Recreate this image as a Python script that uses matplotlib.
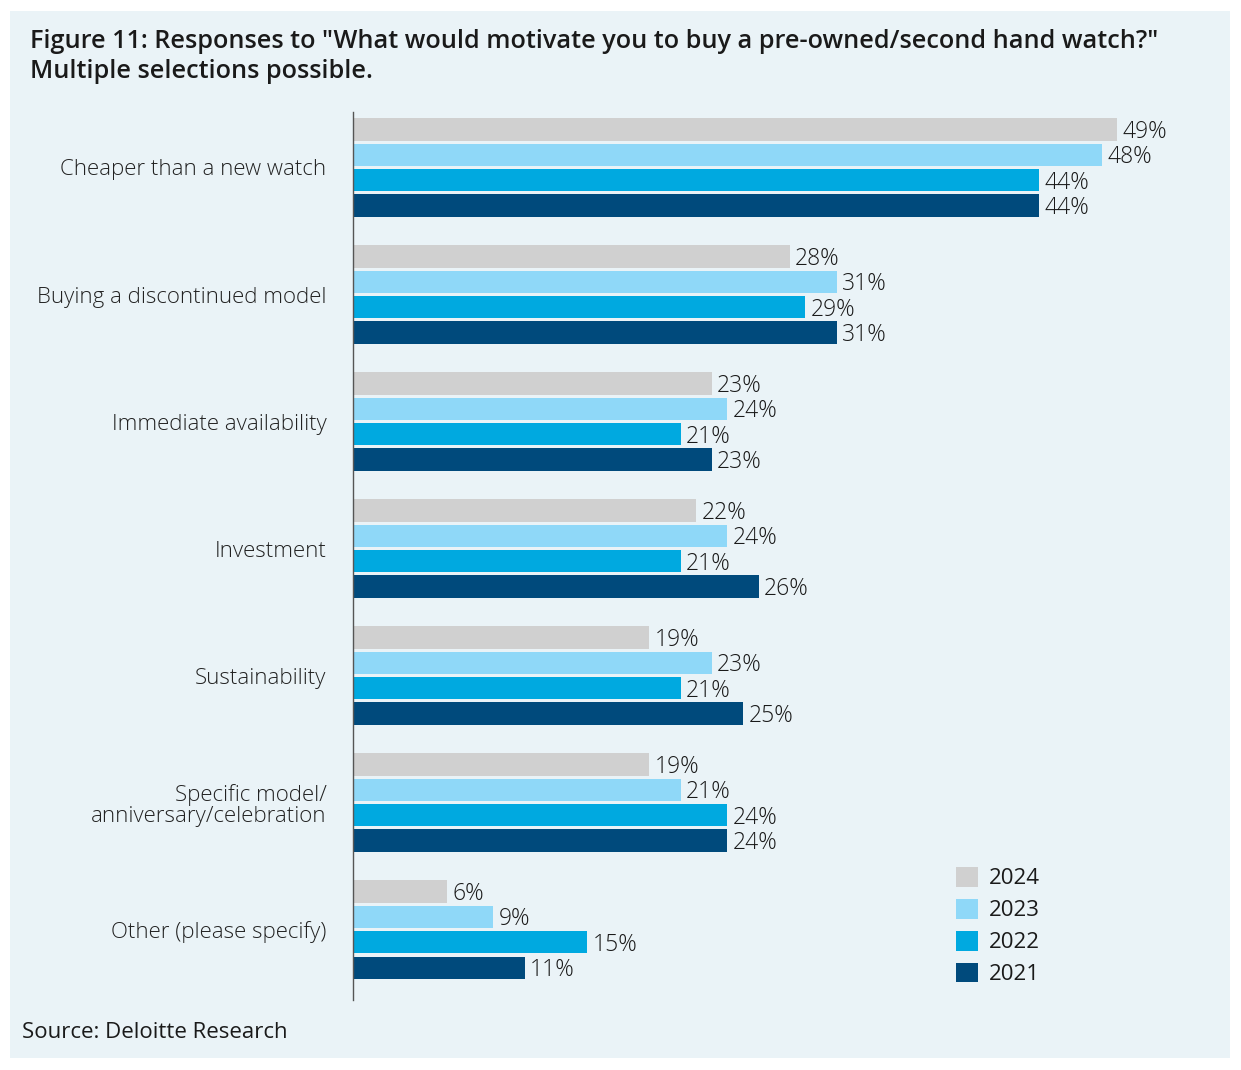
import numpy as np
import matplotlib.pyplot as plt
from matplotlib.patches import Rectangle, Patch

plt.rcParams['font.family'] = ['Open Sans', 'DejaVu Sans']

categories = ['Cheaper than a new watch', 'Buying a discontinued model', 'Immediate availability',
              'Investment', 'Sustainability', 'Specific model/\nanniversary/celebration',
              'Other (please specify)']
years = ['2024', '2023', '2022', '2021']
v2024 = [49, 28, 23, 22, 19, 19, 6]
v2023 = [48, 31, 24, 24, 23, 21, 9]
v2022 = [44, 29, 21, 21, 21, 24, 15]
v2021 = [44, 31, 23, 26, 25, 24, 11]
colors = ['#d0d0d0', '#8fd8f8', '#00a9e0', '#004a7c']

W, H = 1241, 1070
fig = plt.figure(figsize=(W / 100, H / 100), dpi=100)
fig.patch.set_facecolor('white')
bg = '#eaf3f7'
fig.patches.append(Rectangle((10 / W, 1 - 1058 / H), 1220 / W, 1047 / H,
                             transform=fig.transFigure, facecolor=bg, edgecolor='none', zorder=-1))

ax = fig.add_axes([353 / W, 1 - 1000 / H, 861 / W, 888 / H])
ax.set_zorder(2)
ax.set_facecolor('none')

y = np.arange(len(categories))
offsets = [-0.3, -0.1, 0.1, 0.3]
series = [v2024, v2023, v2022, v2021]
for vals, off, c, yr in zip(series, offsets, colors, years):
    ax.barh(y + off, vals, height=0.175, color=c, label=yr)
    for yi, v in zip(y, vals):
        # labels sit a touch below bar centre in the original
        ax.text(v + 0.35, yi + off + 0.02, f'{v}%', va='center', ha='left', fontsize=16.5,
                fontweight='light', color='#1a1a1a')

ax.set_xlim(0, 55.2)
ax.set_ylim(6.555, -0.437)
ax.set_xticks([])
ax.set_yticks(y)
ax.set_yticklabels(categories, fontsize=16, fontweight='light', color='#222222', linespacing=1.0)
ax.tick_params(axis='y', length=0, pad=19)
for s in ['top', 'right', 'bottom']:
    ax.spines[s].set_visible(False)
ax.spines['left'].set_color('#555555')
ax.spines['left'].set_linewidth(1.0)

handles = [Patch(facecolor=c, edgecolor='none') for c in colors]
leg = fig.legend(handles, years, loc='upper left', bbox_to_anchor=(947 / W, 1 - 858 / H),
                 frameon=False, fontsize=16, handlelength=1.0, handleheight=1.0,
                 handletextpad=0.5, labelspacing=0.42, borderaxespad=0)
for t in leg.get_texts():
    t.set_color('#1a1a1a')

fig.text(30 / W, 1 - 42 / H, 'Figure 11: Responses to "What would motivate you to buy a pre-owned/second hand watch?"',
         fontsize=18.2, fontweight='semibold', color='#1a1a1a', va='center', ha='left')
fig.text(30 / W, 1 - 72 / H, 'Multiple selections possible.',
         fontsize=18.2, fontweight='semibold', color='#1a1a1a', va='center', ha='left')
fig.text(22 / W, 1 - 1032 / H, 'Source: Deloitte Research', fontsize=16, color='#1a1a1a',
         va='center', ha='left')

fig.savefig('out.png', dpi=100, facecolor='white')
